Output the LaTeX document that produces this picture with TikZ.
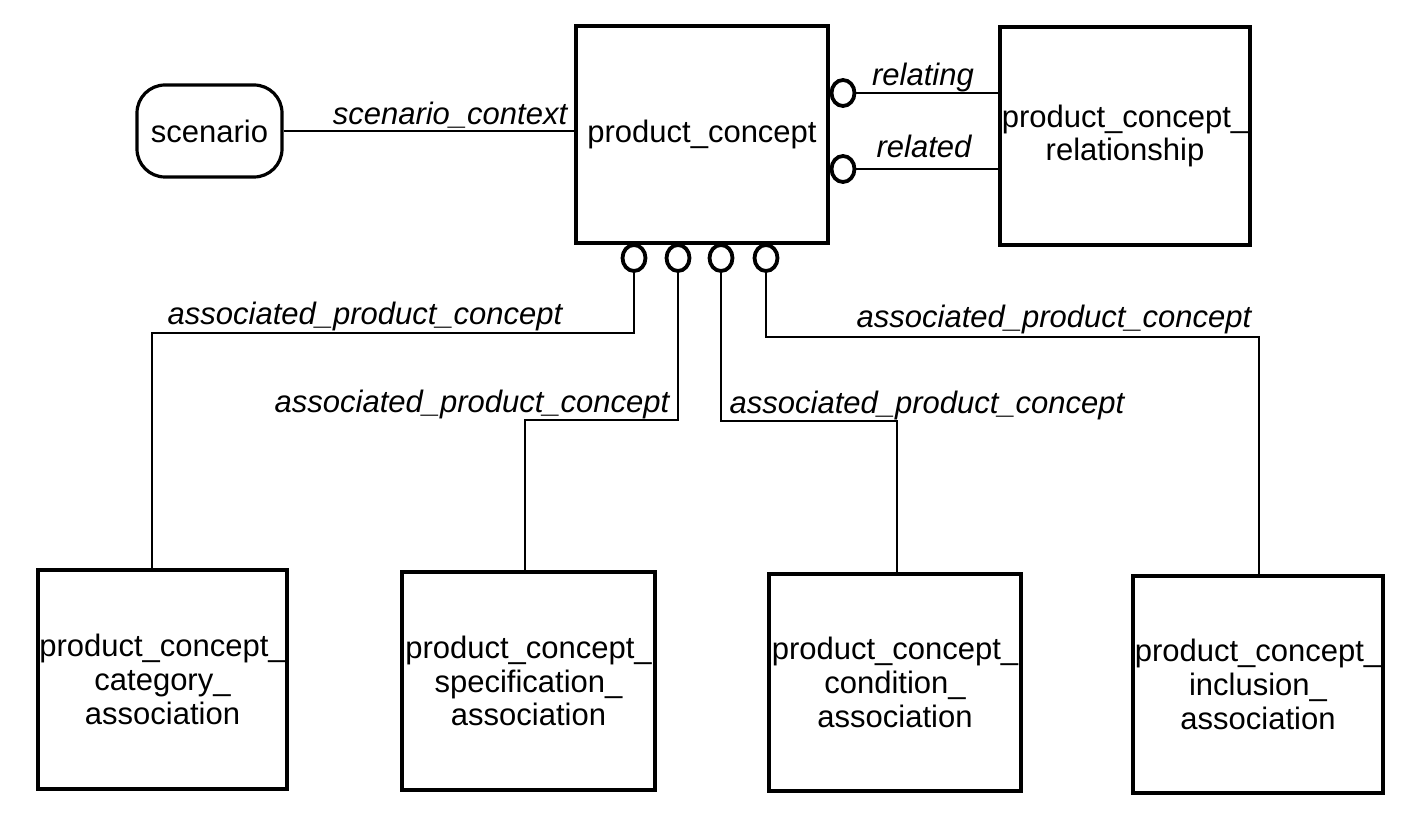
\documentclass[tikz,border=0pt]{standalone}
\usepackage{fontspec}
\setmainfont{Liberation Sans}
\usetikzlibrary{shapes.geometric}
\tikzset{
  ebox/.style={draw, line width=1.6pt, inner sep=0pt, align=center,
    font=\fontsize{15.5}{16.8}\selectfont},
  endc/.style={draw, ellipse, line width=1.9pt, inner sep=0pt,
    minimum width=11.5pt, minimum height=13pt, fill=white},
  conn/.style={line width=1.3pt},
  lab/.style={font=\fontsize{15.5}{16.8}\selectfont\itshape, inner sep=0pt, anchor=base}
}
\begin{document}
\begin{tikzpicture}[x=0.5pt,y=-0.5pt]
\useasboundingbox (0,0) rectangle (1413,823);
% main boxes
\node[ebox, minimum width=126pt, minimum height=108.5pt] (pc) at (702,134.5) {product\_concept};
\node[ebox, minimum width=125pt, minimum height=109pt] (rel) at (1125,136) {product\_concept\_\\relationship};
\node[ebox, rounded corners=14pt, minimum width=72.5pt, minimum height=46pt] (sc) at (209.5,131) {scenario};
\node[ebox, minimum width=124.5pt, minimum height=109.5pt] (b1) at (162.5,679.5) {product\_concept\_\\category\_\\association};
\node[ebox, minimum width=126.5pt, minimum height=109pt] (b2) at (528.5,681) {product\_concept\_\\specification\_\\association};
\node[ebox, minimum width=126pt, minimum height=108.5pt] (b3) at (895,682.5) {product\_concept\_\\condition\_\\association};
\node[ebox, minimum width=125pt, minimum height=108.5pt] (b4) at (1258,684.5) {product\_concept\_\\inclusion\_\\association};
% scenario connector
\draw[conn] (sc.east) -- (sc.east -| pc.west);
\node[lab] (lsc) at (450,125) {scenario\_context};
% relationship connectors
\node[endc] (c1) at (843,93) {};
\node[endc] (c2) at (843,169) {};
\draw[conn] (c1.east) -- (c1 -| rel.west);
\draw[conn] (c2.east) -- (c2 -| rel.west);
\node[lab] (lrel1) at (923,86) {relating};
\node[lab] (lrel2) at (924,158) {related};
% association connectors
\node[endc] (d1) at (634,258) {};
\node[endc] (d2) at (678,258) {};
\node[endc] (d3) at (721,258) {};
\node[endc] (d4) at (766,258) {};
\coordinate (k1) at (152,333);
\coordinate (k2) at (525,420);
\coordinate (k3) at (897,421);
\coordinate (k4) at (1259,337);
\draw[conn] (d1.south) |- (k1) -- (k1 |- b1.north);
\draw[conn] (d2.south) |- (k2) -- (k2 |- b2.north);
\draw[conn] (d3.south) |- (k3) -- (k3 |- b3.north);
\draw[conn] (d4.south) |- (k4) -- (k4 |- b4.north);
\node[lab] (la1) at (365,325) {associated\_product\_concept};
\node[lab] (la2) at (472,413) {associated\_product\_concept};
\node[lab] (la3) at (927,414) {associated\_product\_concept};
\node[lab] (la4) at (1054,328) {associated\_product\_concept};
\end{tikzpicture}
\end{document}
